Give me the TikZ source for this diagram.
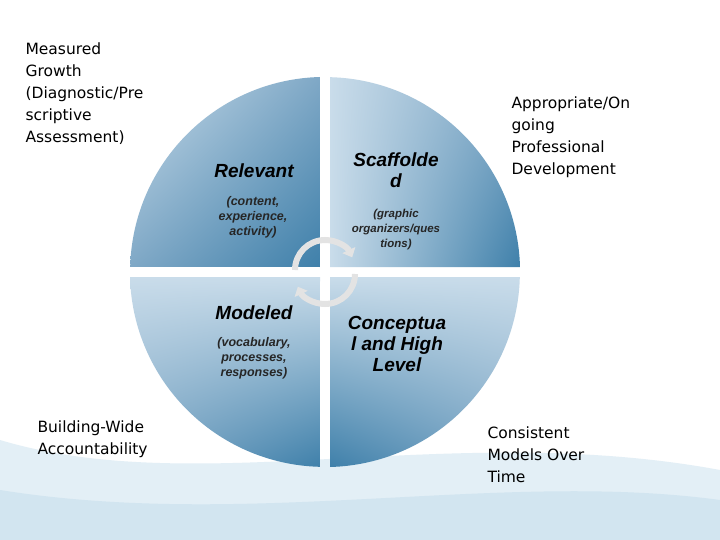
\documentclass[tikz,border=0pt]{standalone}
\usepackage{fontspec}
\setmainfont{DejaVu Sans}
\newfontfamily\arialf{Liberation Sans}
\usetikzlibrary{arrows.meta,shadings}
\definecolor{lite}{HTML}{C9DCEA}
\definecolor{dark}{HTML}{3F80AA}
\definecolor{mid}{HTML}{7FA8C6}
\definecolor{wave1}{HTML}{E3EFF6}
\definecolor{wave2}{HTML}{D2E5F0}
\begin{document}
\begin{tikzpicture}[x=1pt,y=-1pt,
  quad/.style={draw=none},
  head/.style={font=\arialf\bfseries\itshape\fontsize{19}{21}\selectfont, align=center, text=black},
  sub/.style={font=\arialf\bfseries\itshape\fontsize{12.5}{15}\selectfont, align=center, text=black!85},
  side/.style={font=\fontsize{15.5}{22}\selectfont, align=left, anchor=north west, text=black},
  cyc/.style={line width=6pt, draw=gray!22, -{Triangle[length=8pt,width=14pt]}}]
\useasboundingbox (0,0) rectangle (720,540);
\fill[white] (0,0) rectangle (720,540);
% background waves
\fill[wave1] (0,440) .. controls (200,500) and (450,420) .. (720,470) -- (720,540) -- (0,540) -- cycle;
\fill[wave2] (0,490) .. controls (250,530) and (500,470) .. (720,500) -- (720,540) -- (0,540) -- cycle;
% quadrants
\shade[quad, upper left=lite, lower right=dark, upper right=mid, lower left=mid]
  (320,267) -- (320,77) arc[start angle=-91.5,end angle=-178.5,radius=195] -- cycle;
\shade[quad, upper left=lite, lower right=dark, upper right=mid, lower left=lite]
  (330,267) -- (520,267) arc[start angle=-1.5,end angle=-88.5,radius=195] -- cycle;
\shade[quad, upper left=lite, lower right=dark, upper right=lite, lower left=mid]
  (320,277) -- (130,277) arc[start angle=178.5,end angle=91.5,radius=195] -- cycle;
\shade[quad, upper left=lite, lower right=mid, upper right=lite, lower left=dark]
  (330,277) -- (330,467) arc[start angle=88.5,end angle=1.5,radius=195] -- cycle;
% cycle arrows
\draw[cyc] (295,270) arc[start angle=180,end angle=335,radius=30];
\draw[cyc] (355,274) arc[start angle=0,end angle=155,radius=30];
% texts
\node[head] (h1) at (254,171) {Relevant};
\node[sub] (s1) at (253,217) {(content,\\experience,\\activity)};
\node[head] (h2) at (396,170) {Scaffolde\\d};
\node[sub, font=\arialf\bfseries\itshape\fontsize{11.5}{15}\selectfont] (s2) at (396,230) {(graphic\\organizers/ques\\tions)};
\node[head] (h3) at (254,313) {Modeled};
\node[sub] (s3) at (254,358) {(vocabulary,\\processes,\\responses)};
\node[head] (h4) at (397,344) {Conceptua\\l and High\\Level};
\node[side] (l1) at (22,39) {Measured\\Growth\\(Diagnostic/Pre\\scriptive\\Assessment)};
\node[side] (l2) at (508,93) {Appropriate/On\\going\\Professional\\Development};
\node[side] (l3) at (34,417) {Building-Wide\\Accountability};
\node[side] (l4) at (484,423) {Consistent\\Models Over\\Time};
\end{tikzpicture}
\end{document}
